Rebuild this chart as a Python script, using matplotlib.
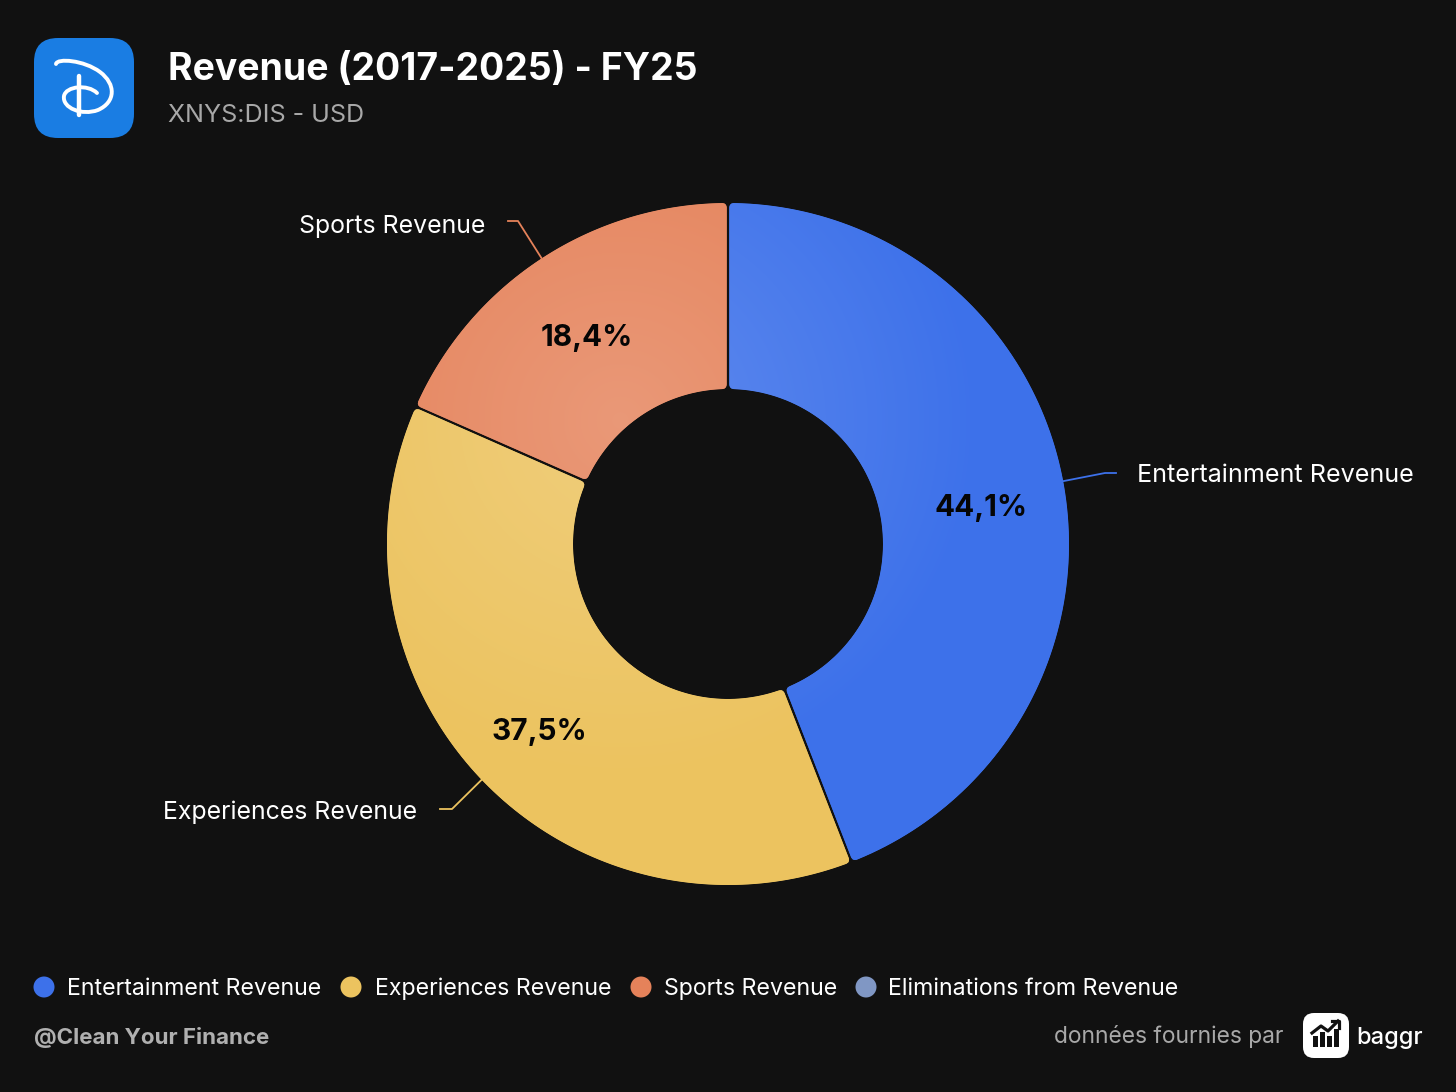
import numpy as np
import matplotlib
matplotlib.use('Agg')
import matplotlib.pyplot as plt
from matplotlib.patches import FancyBboxPatch, PathPatch, Circle, Rectangle
from matplotlib.path import Path

plt.rcParams['font.family'] = ['Inter', 'DejaVu Sans']

# data
categories = ['Entertainment Revenue', 'Experiences Revenue', 'Sports Revenue', 'Eliminations from Revenue']
shares = [44.1, 37.5, 18.4, 0.0]
share_labels = ['44,1%', '37,5%', '18,4%']
colors = ['#3d71ea', '#ecc35f', '#e5825a', '#8097c4']
title = 'Revenue (2017-2025) - FY25'
subtitle = 'XNYS:DIS - USD'

BG = '#111111'
CX, CY = 728, 544
R_OUT, R_IN = 341, 155

fig = plt.figure(figsize=(14.56, 10.92), dpi=100, facecolor=BG)
ax = fig.add_axes([0, 0, 1, 1])


def rounded_ring_path(t1, t2, r_out, r_in, gap=1.3, rc=5):
    # annular sector with rounded corners, angles in degrees
    a1, a2 = np.radians(t1), np.radians(t2)

    def pt(r, a):
        return (CX + r * np.cos(a), CY + r * np.sin(a))

    o1, o2 = a1 + gap / r_out, a2 - gap / r_out
    i1, i2 = a1 + gap / r_in, a2 - gap / r_in
    verts = [pt(r_out - rc, o1)]
    codes = [Path.MOVETO]
    verts += [pt(r_out, o1), pt(r_out, o1 + rc / r_out)]
    codes += [Path.CURVE3, Path.CURVE3]
    for a in np.linspace(o1 + rc / r_out, o2 - rc / r_out, 120):
        verts.append(pt(r_out, a))
        codes.append(Path.LINETO)
    verts += [pt(r_out, o2), pt(r_out - rc, o2), pt(r_in + rc, i2), pt(r_in, i2), pt(r_in, i2 - rc / r_in)]
    codes += [Path.CURVE3, Path.CURVE3, Path.LINETO, Path.CURVE3, Path.CURVE3]
    for a in np.linspace(i2 - rc / r_in, i1 + rc / r_in, 80):
        verts.append(pt(r_in, a))
        codes.append(Path.LINETO)
    verts += [pt(r_in, i1), pt(r_in + rc, i1), pt(r_out - rc, o1)]
    codes += [Path.CURVE3, Path.CURVE3, Path.CLOSEPOLY]
    return Path(verts, codes)


# y axis is inverted (pixel coords), so counterclock here turns clockwise on screen
wedges, _ = ax.pie(shares, colors=colors, center=(CX, CY), radius=R_OUT, startangle=-90,
                   counterclock=True, frame=True, normalize=True,
                   wedgeprops={'width': R_OUT - R_IN, 'linewidth': 0})

# soft light in the upper left part of the ring
yy, xx = np.mgrid[0:1092, 0:1456]
dist = np.hypot(xx - 620, yy - 420)
glow = np.clip(1 - dist / 360, 0, 1) * 0.18

for w, c in zip(wedges, colors):
    if w.theta2 - w.theta1 < 0.1:
        w.set_visible(False)
        continue
    patch = PathPatch(rounded_ring_path(w.theta1, w.theta2, R_OUT, R_IN),
                      transform=ax.transData, fc='none', ec='none')
    ax.add_patch(patch)
    # pie turns clipping off on its wedges
    w.set_clip_on(True)
    w.set_clip_path(patch)
    rgb = np.array(matplotlib.colors.to_rgb(c))
    img = rgb[None, None, :] + (1 - rgb[None, None, :]) * glow[:, :, None]
    im = ax.imshow(img, extent=(0, 1456, 1092, 0), aspect='auto', interpolation='bilinear', zorder=1.5)
    im.set_clip_path(patch)

ax.set_xlim(0, 1456)
ax.set_ylim(1092, 0)
ax.axis('off')

# percent labels
pct_xy = [(981, 508), (539, 732), (587, 338)]
for s, (x, y) in zip(share_labels, pct_xy):
    ax.text(x, y, s, color='#050505', fontsize=21.4, fontweight='bold', ha='center', va='center', zorder=4)

# leader lines, start on the outer edge at mid angle
leaders = [[(1105, 473), (1116, 473)], [(452, 809), (440, 809)], [(518, 221), (508, 221)]]
for w, c, pts in zip(wedges, colors, leaders):
    a = np.radians((w.theta1 + w.theta2) / 2)
    xs = [CX + R_OUT * np.cos(a)] + [p[0] for p in pts]
    ys = [CY + R_OUT * np.sin(a)] + [p[1] for p in pts]
    ax.plot(xs, ys, color=c, lw=1.3, zorder=3)

ax.text(1137, 476, categories[0], color='white', fontsize=18.1, ha='left', va='center')
ax.text(417, 812, categories[1], color='white', fontsize=17.9, ha='right', va='center')
ax.text(485, 227, categories[2], color='white', fontsize=17.9, ha='right', va='center')

# header
ax.add_patch(FancyBboxPatch((34 + 24, 38 + 24), 52, 52, boxstyle='round,pad=24,rounding_size=24',
                            fc='#1a7de3', ec='none'))
d_curve = Path([(56, 64), (57, 58), (84, 60), (100, 72), (116, 84), (116, 102), (98, 110),
                (82, 116), (62, 108), (64, 96), (66, 86), (88, 84), (97, 93)],
               [Path.MOVETO] + [Path.CURVE4] * 12)
ax.add_patch(PathPatch(d_curve, fc='none', ec='white', lw=2.8, capstyle='round'))
ax.plot([79, 79], [76, 115], color='white', lw=3.2, solid_capstyle='round')

ax.text(168, 70, title, color='white', fontsize=26.9, fontweight='bold', ha='left', va='center')
ax.text(168, 115, subtitle, color='#a8a8a8', fontsize=18, ha='left', va='center')

# legend row
dot_x = [44, 351, 641, 866]
text_x = [67, 375, 664, 888]
for x, tx, name, c in zip(dot_x, text_x, categories, colors):
    ax.add_patch(Circle((x, 987), 10.5, fc=c, ec='none'))
    ax.text(tx, 989, name, color='white', fontsize=16.65, ha='left', va='center')

# footer
ax.text(34, 1037, '@Clean Your Finance', color='#b0b0b0', fontsize=16.1, fontweight='bold', ha='left', va='center')
ax.text(1284, 1037, 'données fournies par', color='#a8a8a8', fontsize=16.4, ha='right', va='center')
ax.add_patch(FancyBboxPatch((1303 + 11, 1013 + 11), 24, 23, boxstyle='round,pad=11,rounding_size=11',
                            fc='white', ec='none'))
bar_x = [1313, 1320, 1327, 1334]
bar_top = [1036, 1032, 1036, 1029]
for x, t in zip(bar_x, bar_top):
    ax.add_patch(Rectangle((x, t), 5, 1047 - t, fc='#111111', ec='none'))
ax.plot([1312, 1321, 1328, 1338], [1033, 1026, 1031, 1021], color='#111111', lw=2.3)
ax.plot([1332, 1339, 1339], [1021, 1021, 1028], color='#111111', lw=2.3)
ax.text(1356, 1038, 'baggr', color='white', fontsize=17, fontweight='medium', ha='left', va='center')

fig.savefig('out.png', dpi=100, facecolor=BG)
